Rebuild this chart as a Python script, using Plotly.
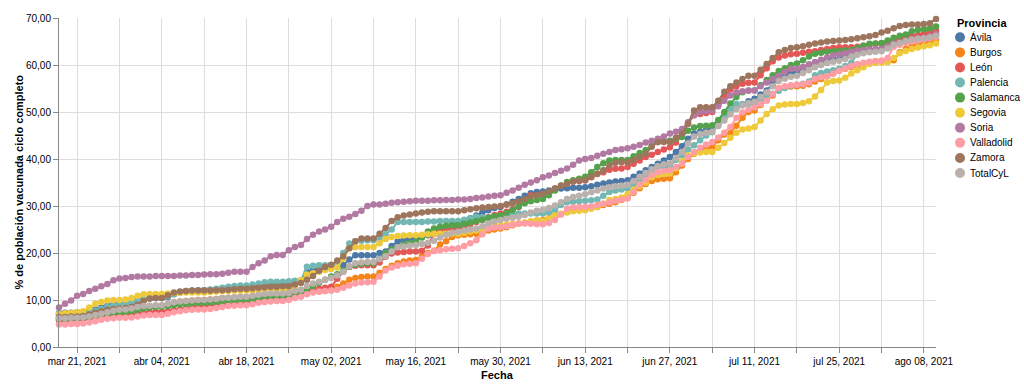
import pandas as pd
import plotly.graph_objects as go

start_date = "2021-03-18"
n_days = 146
fechas = pd.date_range(start_date, periods=n_days, freq="D")

provincias = ["Ávila", "Burgos", "León", "Palencia", "Salamanca", "Segovia",
              "Soria", "Valladolid", "Zamora", "TotalCyL"]
colores = ["#4c78a8", "#f58518", "#e45756", "#72b7b2", "#54a24b", "#eeca3b",
           "#b279a2", "#ff9da6", "#9d755d", "#bab0ac"]

avila = [7.2,7.3,7.3,7.4,7.4,7.6,8.0,8.4,8.8,9.1,9.3,9.3,9.4,9.9,10.2,10.3,10.4,10.4,10.6,11.2,
         11.6,11.8,11.9,12.0,12.1,12.2,12.3,12.5,12.6,12.7,12.8,12.8,12.9,13.0,13.3,13.5,13.5,13.5,13.6,14.0,
         14.1,16.0,16.4,16.5,16.6,16.7,17.0,17.4,18.6,19.5,19.5,19.5,19.5,20.0,20.3,21.5,22.5,22.8,23.0,23.1,
         23.4,23.8,24.2,25.0,25.6,26.0,26.3,26.8,27.4,28.0,28.6,29.1,29.6,29.8,30.3,30.9,31.5,32.2,32.7,33.0,
         33.1,33.3,33.5,33.7,33.8,33.9,33.9,34.0,34.2,34.5,34.8,35.0,35.2,35.3,35.5,36.2,36.9,37.6,38.3,39.0,
         39.7,40.4,41.5,42.7,44.3,45.4,45.8,46.2,46.4,47.6,48.7,50.0,51.0,51.6,52.3,52.8,53.7,54.6,56.0,57.3,
         57.9,58.3,58.5,59.3,60.1,60.6,60.8,61.0,61.2,61.3,61.8,62.3,62.7,63.0,63.2,63.3,63.4,63.9,64.4,64.8,
         65.3,65.7,65.8,65.9,66.2,66.6]
burgos = [6.0,6.0,6.1,6.1,6.3,6.6,6.9,7.1,7.3,7.4,7.5,7.6,7.8,8.2,8.5,8.7,8.8,8.8,9.1,9.5,
          9.7,9.8,9.9,10.0,10.0,10.1,10.2,10.4,10.5,10.6,10.7,10.7,10.8,10.9,11.0,11.1,11.1,11.1,11.2,11.3,
          11.5,11.6,11.7,11.8,11.9,12.1,12.8,13.5,14.3,14.7,14.9,15.0,15.0,15.8,16.6,17.3,17.8,18.2,18.4,18.5,
          19.3,20.0,20.5,21.8,22.5,23.4,23.8,23.9,24.0,24.1,24.4,24.8,25.0,25.2,25.5,25.9,26.2,26.4,26.7,26.9,
          27.0,27.4,27.9,28.3,28.7,29.0,29.2,29.4,29.6,29.8,30.2,30.5,30.8,31.3,31.9,32.8,33.8,34.7,35.3,35.7,
          35.8,35.9,37.2,38.6,40.0,41.1,41.8,42.3,42.5,44.0,45.2,45.5,47.1,48.8,50.0,50.3,51.5,52.6,53.5,55.0,
          55.3,55.4,55.5,55.6,55.9,56.5,57.0,57.6,58.2,58.8,59.2,59.6,59.9,60.2,60.5,60.8,60.9,60.9,61.0,62.7,
          63.4,64.0,64.4,64.8,65.1,65.5]
leon = [5.7,5.7,5.8,5.9,5.9,6.1,6.3,6.5,6.6,6.7,6.8,6.8,6.9,7.1,7.3,7.4,7.5,7.5,7.6,7.8,
        8.0,8.2,8.4,8.5,8.6,8.7,8.8,9.0,9.1,9.2,9.3,9.4,9.6,9.8,10.1,10.3,10.5,10.6,10.7,11.0,
        11.2,11.6,12.0,12.4,12.6,12.8,14.5,16.0,17.1,17.3,17.4,17.4,17.4,18.0,19.2,19.9,20.1,20.2,20.3,20.3,
        20.5,21.6,24.1,24.8,25.2,25.2,25.2,25.6,26.1,26.6,27.1,27.6,28.1,28.4,28.8,29.3,29.8,31.2,32.3,32.3,
        32.3,32.9,33.7,34.3,35.0,35.2,35.3,35.5,36.1,36.8,37.2,37.7,37.9,38.0,38.3,39.0,39.7,40.4,40.9,41.5,
        42.0,42.5,43.5,45.0,47.5,49.3,49.6,49.8,50.0,51.7,53.3,54.8,55.5,56.0,56.2,56.3,57.8,59.3,60.8,61.6,
        62.0,62.3,62.4,62.6,62.8,62.9,63.2,63.4,63.6,63.8,63.8,63.8,63.9,64.1,64.3,64.5,64.6,64.9,65.2,65.5,
        65.8,66.1,66.4,66.7,67.0,67.4]
palencia = [6.8,6.8,6.9,6.9,7.0,7.3,7.7,8.1,8.5,8.9,9.1,9.2,9.4,9.9,10.2,10.4,10.5,10.5,10.8,11.3,
            11.7,11.9,12.0,12.1,12.1,12.2,12.4,12.6,12.8,13.0,13.1,13.1,13.3,13.5,13.8,13.9,13.9,13.9,14.0,14.1,
            14.2,17.1,17.3,17.4,17.4,17.4,17.6,20.0,22.0,22.5,22.6,22.7,22.7,23.2,24.0,25.0,26.6,26.6,26.6,26.6,
            26.6,26.7,26.7,26.8,26.8,26.8,26.8,27.1,27.4,27.7,27.6,27.5,27.5,27.5,27.8,28.1,28.4,28.4,28.4,28.4,
            28.4,28.6,29.1,30.2,30.8,30.9,31.0,31.1,31.2,31.4,32.2,33.0,33.3,33.5,33.7,34.6,35.4,36.2,37.5,38.3,
            38.3,38.3,39.8,40.8,42.0,42.9,44.0,45.0,45.7,47.2,48.9,50.5,51.7,51.7,51.7,51.7,52.5,53.2,53.9,54.5,
            55.1,55.6,55.8,56.0,56.5,57.8,58.3,58.6,58.9,59.2,59.8,60.4,62.5,62.8,63.0,63.2,63.3,63.6,64.1,64.6,
            65.1,65.4,65.6,65.7,65.9,66.2]
salamanca = [6.0,6.0,6.0,6.1,6.2,6.4,6.6,6.8,7.0,7.2,7.3,7.4,7.6,7.9,8.2,8.4,8.5,8.6,8.7,8.9,
             9.1,9.2,9.3,9.4,9.4,9.5,9.6,9.8,9.9,10.0,10.1,10.1,10.2,10.3,10.4,10.4,10.4,10.4,10.4,10.8,
             11.4,12.4,13.0,13.6,14.3,15.0,15.5,16.3,17.1,17.5,17.7,17.8,17.8,18.8,20.0,20.8,21.3,21.8,22.1,22.4,
             23.3,24.6,25.2,25.6,25.8,25.9,25.9,26.2,26.5,26.8,27.1,27.5,27.8,28.0,28.5,29.1,29.9,30.6,31.0,31.3,
             31.5,32.3,33.3,34.3,35.1,35.5,35.8,36.2,37.2,38.3,39.1,39.7,39.8,39.8,39.8,40.6,41.3,41.9,42.8,43.6,
             43.8,43.9,44.3,44.7,46.0,46.7,47.0,47.1,47.2,48.3,50.0,51.8,53.2,54.2,54.6,54.6,55.7,56.8,57.8,58.7,
             59.3,60.0,60.3,61.0,61.8,62.4,62.6,62.8,62.9,63.0,63.1,63.2,63.6,64.1,64.5,64.6,64.7,65.2,65.8,66.2,
             66.5,67.2,67.5,67.6,67.8,68.2]
segovia = [7.0,7.2,7.3,7.4,7.6,8.4,9.2,9.6,9.9,10.0,10.0,10.1,10.4,10.9,11.2,11.3,11.3,11.3,11.4,11.5,
           11.5,11.6,11.6,11.6,11.6,11.7,11.8,11.9,11.9,12.0,12.0,12.0,12.0,12.1,12.2,12.3,12.3,12.3,12.3,12.8,
           14.2,15.4,15.7,16.0,16.4,16.6,16.9,18.8,21.0,21.2,21.3,21.3,21.3,22.1,23.0,23.4,23.6,23.7,23.8,23.8,
           23.9,24.0,24.1,24.1,24.1,24.1,24.1,24.3,24.6,24.8,25.1,25.5,25.8,25.9,26.0,26.2,26.3,26.5,26.7,26.8,
           26.8,27.3,28.0,28.3,28.6,28.9,29.0,29.1,29.4,29.8,30.5,31.3,31.5,31.8,32.5,33.5,34.2,35.0,36.1,36.6,
           36.8,36.9,38.0,39.5,40.8,41.2,41.4,41.5,41.5,42.4,43.4,44.5,45.6,46.3,46.5,46.8,48.2,49.6,50.6,51.4,
           51.6,51.7,51.7,51.9,52.3,53.3,54.7,56.3,56.6,56.7,57.3,58.2,58.9,59.5,60.2,60.4,60.5,60.6,61.5,62.5,
           63.0,63.4,63.7,64.0,64.2,64.6]
soria = [8.4,9.2,9.9,10.9,11.3,11.9,12.4,12.9,13.4,14.2,14.6,14.7,14.9,15.0,15.0,15.0,15.1,15.1,15.1,15.1,
         15.2,15.2,15.3,15.3,15.4,15.5,15.5,15.6,15.8,16.0,16.0,16.0,17.0,17.8,18.4,19.3,19.6,19.6,20.6,21.3,
         21.7,23.0,23.9,24.6,25.0,25.6,26.6,27.3,27.7,28.3,29.0,30.0,30.3,30.3,30.5,30.7,30.8,30.9,31.0,31.1,
         31.1,31.1,31.2,31.2,31.3,31.3,31.4,31.4,31.5,31.7,31.8,32.0,32.2,32.3,32.8,33.3,33.9,34.5,35.0,35.5,
         36.1,36.5,37.0,37.5,38.0,38.8,39.7,40.0,40.2,40.7,41.1,41.5,41.9,42.1,42.3,42.6,43.0,43.5,43.9,44.3,
         44.8,45.4,45.8,46.4,47.8,49.3,50.0,50.2,50.3,51.2,52.4,53.5,54.2,54.4,54.5,54.6,55.5,56.3,57.0,57.7,
         58.5,59.2,59.2,59.6,60.1,60.6,61.1,61.6,62.0,62.3,62.5,62.8,63.1,63.2,63.3,63.4,63.4,63.9,64.5,64.8,
         65.1,65.5,65.7,65.8,66.1,66.6]
valladolid = [4.8,4.8,4.9,4.9,5.0,5.2,5.5,5.8,6.0,6.1,6.2,6.2,6.3,6.5,6.7,6.8,6.8,6.8,7.1,7.4,
              7.6,7.8,7.9,8.0,8.0,8.1,8.3,8.5,8.7,8.8,8.9,8.9,9.1,9.4,9.6,9.7,9.8,9.8,10.0,10.4,
              10.7,11.2,11.6,11.8,11.9,12.0,12.2,12.6,13.1,13.5,13.7,13.8,13.9,15.0,16.3,16.9,17.3,17.6,17.7,17.8,
              18.8,19.8,20.4,20.6,20.8,20.9,21.0,21.5,22.1,22.7,24.0,25.2,25.4,25.5,25.7,26.0,26.3,26.3,26.2,26.1,
              26.1,26.4,27.0,28.2,29.4,29.7,29.8,29.8,29.9,30.2,30.5,30.8,31.1,31.4,31.6,33.0,34.6,35.6,36.6,37.2,
              37.5,37.6,38.3,39.0,40.4,41.5,42.4,43.1,43.6,44.6,45.6,46.8,48.8,49.9,50.5,51.0,51.7,52.4,53.8,55.1,
              55.5,55.7,55.8,55.9,56.2,57.0,57.4,57.6,58.2,58.8,59.3,59.8,60.2,60.5,60.7,60.8,60.9,61.5,63.9,64.3,
              64.7,65.0,65.2,65.4,65.7,66.0]
zamora = [6.4,6.4,6.5,6.5,6.6,6.9,7.3,7.6,7.9,8.1,8.2,8.3,8.5,9.0,9.8,10.3,10.4,10.4,11.0,11.6,
          11.8,11.9,12.0,12.0,12.0,12.0,12.1,12.1,12.2,12.3,12.4,12.4,12.5,12.6,12.7,12.8,12.8,12.9,12.9,13.3,
          13.6,14.3,15.1,16.2,17.0,17.5,18.4,19.3,21.0,22.5,23.1,23.1,23.1,24.1,25.3,26.8,27.6,28.0,28.2,28.4,
          28.6,28.8,28.9,28.9,28.9,28.9,28.9,29.1,29.3,29.5,29.7,29.8,29.9,30.0,30.3,30.6,31.0,31.5,32.0,32.3,
          32.6,33.1,33.7,34.3,34.7,35.2,35.4,35.5,36.2,36.9,37.6,38.6,39.2,39.3,39.3,39.8,40.4,41.1,42.6,43.6,
          43.6,43.6,44.5,45.4,47.5,50.3,51.0,51.0,51.0,52.4,54.3,55.5,56.3,57.0,57.7,57.7,59.0,60.2,61.5,62.7,
          63.2,63.6,63.8,64.0,64.3,64.6,64.8,65.0,65.1,65.2,65.3,65.5,65.7,65.9,66.1,66.4,66.9,67.3,67.8,68.3,
          68.5,68.6,68.6,68.7,68.9,69.8]
total_cyl = [6.1,6.1,6.2,6.2,6.3,6.5,6.8,7.1,7.4,7.7,7.9,8.0,8.2,8.5,8.7,8.8,8.9,8.9,9.2,9.5,
             9.7,9.8,9.9,10.0,10.0,10.1,10.2,10.4,10.5,10.6,10.7,10.7,10.9,11.1,11.3,11.4,11.4,11.4,11.5,11.9,
             12.2,13.0,13.5,13.9,14.3,14.7,15.2,16.0,17.2,17.8,18.0,18.1,18.1,18.7,19.3,20.3,21.2,21.4,21.6,21.7,
             21.9,22.2,22.6,23.3,23.9,24.3,24.5,24.8,25.0,25.2,25.7,26.3,26.7,27.0,27.3,27.5,27.7,28.1,28.6,29.0,
             29.2,29.6,30.1,30.8,31.5,31.9,32.2,32.5,32.9,33.3,33.7,34.0,34.2,34.3,34.5,35.3,36.2,37.0,37.8,38.5,
             38.9,39.1,40.2,41.5,43.3,44.8,45.3,45.6,45.8,47.0,48.2,49.5,50.6,51.4,51.9,52.2,53.2,54.2,55.5,56.6,
             57.1,57.5,57.7,58.3,58.9,59.5,60.0,60.4,60.7,60.9,61.3,61.8,62.2,62.5,62.7,62.8,62.9,63.5,64.3,64.7,
             65.1,65.4,65.6,65.7,65.9,66.2]

series = [avila, burgos, leon, palencia, salamanca, segovia, soria, valladolid, zamora, total_cyl]

tick_dates = pd.date_range("2021-03-21", "2021-08-08", freq="7D")
tick_labels = ["mar 21, 2021", "", "abr 04, 2021", "", "abr 18, 2021", "", "may 02, 2021", "",
               "may 16, 2021", "", "may 30, 2021", "", "jun 13, 2021", "", "jun 27, 2021", "",
               "jul 11, 2021", "", "jul 25, 2021", "", "ago 08, 2021"]

FONT = "Liberation Sans, Arial, Helvetica, sans-serif"
L, R, T, B = 59, 88, 18, 45
W, H = 1024, 392
PW, PH = W - L - R, H - T - B

fig = go.Figure()
for name, col, vals in zip(provincias, colores, series):
    fig.add_trace(go.Scatter(
        x=fechas, y=vals, name=name, mode="lines+markers",
        line=dict(color=col, width=2),
        marker=dict(color=col, size=6.5),
        cliponaxis=False, showlegend=False,
    ))

shapes = []
annotations = []
def px_x(px):
    return (px - L) / PW
def px_y(py):
    return (H - B - py) / PH

annotations.append(dict(x=px_x(955), y=px_y(22.5), xref="paper", yref="paper",
                        text="<b>Provincia</b>", showarrow=False, xanchor="left", yanchor="middle",
                        font=dict(family=FONT, size=11, color="#000")))
for i, (name, col) in enumerate(zip(provincias, colores)):
    cy = 37.3 + i * 15.08
    cx = 960
    r = 5
    shapes.append(dict(type="circle", xref="paper", yref="paper",
                       x0=px_x(cx - r), x1=px_x(cx + r), y0=px_y(cy + r), y1=px_y(cy - r),
                       fillcolor=col, line=dict(width=0)))
    annotations.append(dict(x=px_x(968), y=px_y(cy), xref="paper", yref="paper",
                            text=name, showarrow=False, xanchor="left", yanchor="middle",
                            font=dict(family=FONT, size=10, color="#000")))

annotations.append(dict(x=0, y=0.5, xref="paper", yref="paper", xshift=-41,
                        text="<b>% de población vacunada ciclo completo</b>", textangle=-90,
                        showarrow=False, xanchor="center", yanchor="middle",
                        font=dict(family=FONT, size=11, color="#000")))
annotations.append(dict(x=0.5, y=0, xref="paper", yref="paper", yshift=-28,
                        text="<b>Fecha</b>", showarrow=False, xanchor="center", yanchor="middle",
                        font=dict(family=FONT, size=11, color="#000")))

fig.update_layout(
    width=W, height=H, autosize=False,
    margin=dict(l=L, r=R, t=T, b=B, pad=0),
    paper_bgcolor="white", plot_bgcolor="white",
    separators=",.",
    font=dict(family=FONT, size=10, color="#000"),
    shapes=shapes, annotations=annotations,
    showlegend=False,
    xaxis=dict(type="date", range=[fechas[0], fechas[-1]],
               tickvals=list(tick_dates), ticktext=tick_labels,
               showgrid=True, gridcolor="#ddd", gridwidth=1,
               showline=True, linecolor="#888", linewidth=1,
               ticks="outside", ticklen=5, tickcolor="#888",
               tickfont=dict(family=FONT, size=10, color="#000"),
               zeroline=False),
    yaxis=dict(range=[0, 70], tick0=0, dtick=10, tickformat=".2f",
               showgrid=True, gridcolor="#ddd", gridwidth=1,
               showline=True, linecolor="#888", linewidth=1,
               ticks="outside", ticklen=5, tickcolor="#888",
               tickfont=dict(family=FONT, size=10, color="#000"),
               zeroline=False),
)

fig.write_html("out.html", config={"displayModeBar": False},
               post_script="document.body.style.margin='0';document.body.style.overflow='hidden';")
